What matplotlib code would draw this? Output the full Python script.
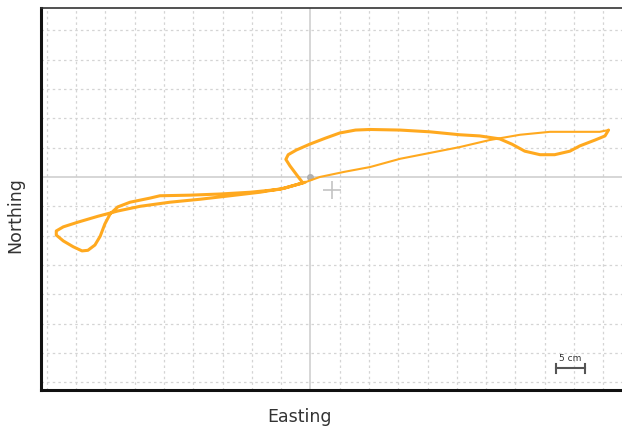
import numpy as np
import matplotlib.pyplot as plt

# track positions in cm relative to the reference point
easting = [-0.9, 1.6, 5.9, 10.2, 15.3, 20.4, 25.5, 30.6, 35.8, 40.9, 46.0, 49.4, 50.9,
           50.3, 48.6, 46.0, 44.3, 41.7, 39.2, 36.6, 34.4, 32.3, 28.9, 25.5, 20.4, 15.3,
           10.2, 7.7, 5.0, 2.5, -0.1, -2.4, -3.8, -4.2, -3.5, -2.3, -1.3,
           -5.2, -10.3, -15.4, -20.6, -25.7, -27.4, -30.8, -32.9, -34.2, -35.1, -35.9,
           -36.8, -38.0, -39.0, -40.5, -42.2, -43.4, -43.4, -42.2, -39.7, -36.3, -32.9,
           -29.1, -24.0, -18.9, -13.7, -8.6, -4.4, -0.9]
northing = [-0.9, 0.0, 0.9, 1.7, 3.1, 4.1, 5.1, 6.3, 7.2, 7.7, 7.7, 7.7, 8.0,
            7.0, 6.3, 5.3, 4.4, 3.8, 3.8, 4.4, 5.6, 6.5, 7.0, 7.2, 7.7, 8.0,
            8.1, 8.0, 7.5, 6.6, 5.6, 4.6, 3.8, 3.0, 1.9, 0.3, -1.0,
            -2.1, -2.6, -2.9, -3.1, -3.2, -3.6, -4.3, -5.1, -6.3, -8.0, -10.1,
            -11.6, -12.5, -12.6, -11.9, -10.9, -9.9, -9.2, -8.5, -7.7, -6.7, -5.8,
            -5.0, -4.3, -3.8, -3.2, -2.6, -1.9, -0.9]
thin_end = 13  # first stretch of the track is drawn thinner

target = (3.7, -2.2)
grid_step = 5
scale_len = 5
scale_pos = (41.9, -32.6)

track_color = '#FFA91F'

fig = plt.figure(figsize=(6.22, 4.31), dpi=100)
ax = fig.add_axes([0.066, 0.093, 0.934, 0.886])
ax.set_xlim(-46.0, 53.2)
ax.set_ylim(-36.3, 28.8)

# grid every 5 cm
for gx in np.arange(-45, 55, grid_step):
    if gx != 0:
        ax.axvline(gx, color='#d4d4d4', lw=0.9, ls=(0, (2, 2.5)), zorder=0)
for gy in np.arange(-35, 30, grid_step):
    if gy != 0:
        ax.axhline(gy, color='#d4d4d4', lw=0.9, ls=(0, (2, 2.5)), zorder=0)
ax.axvline(0, color='#cccccc', lw=1.1, zorder=0)
ax.axhline(0, color='#cccccc', lw=1.1, zorder=0)

ax.plot(0, 0, 'o', color='#b0b0b0', ms=4, zorder=1)
ax.plot(target[0], target[1], '+', color='#c4c4c4', ms=13, mew=1.2, zorder=1)

ax.plot(easting[:thin_end], northing[:thin_end], color=track_color, lw=1.5,
        solid_capstyle='round', solid_joinstyle='round', zorder=2)
ax.plot(easting[thin_end - 1:], northing[thin_end - 1:], color=track_color, lw=2.2,
        solid_capstyle='round', solid_joinstyle='round', zorder=2)

# scale bar
sx, sy = scale_pos
ax.plot([sx, sx + scale_len], [sy, sy], color='#555555', lw=1.5, zorder=3)
ax.plot([sx, sx], [sy - 0.8, sy + 0.8], color='#555555', lw=1.5, zorder=3)
ax.plot([sx + scale_len, sx + scale_len], [sy - 0.8, sy + 0.8], color='#555555', lw=1.5, zorder=3)
ax.text(sx + scale_len / 2, sy + 1.1, '5 cm', ha='center', va='bottom', fontsize=6.5,
        color='#333333', family='DejaVu Sans')

ax.set_xticks([])
ax.set_yticks([])
ax.spines['right'].set_visible(False)
ax.spines['left'].set_linewidth(2.2)
ax.spines['bottom'].set_linewidth(2.2)
ax.spines['left'].set_color('#111111')
ax.spines['bottom'].set_color('#111111')
ax.spines['top'].set_linewidth(1.2)
ax.spines['top'].set_color('#333333')

fig.text(0.482, 0.032, 'Easting', ha='center', va='center', fontsize=12.5,
         color='#333333', family='DejaVu Sans')
fig.text(0.024, 0.50, 'Northing', ha='center', va='center', fontsize=12.5,
         rotation=90, color='#333333', family='DejaVu Sans')

fig.savefig('out.png', dpi=100)
